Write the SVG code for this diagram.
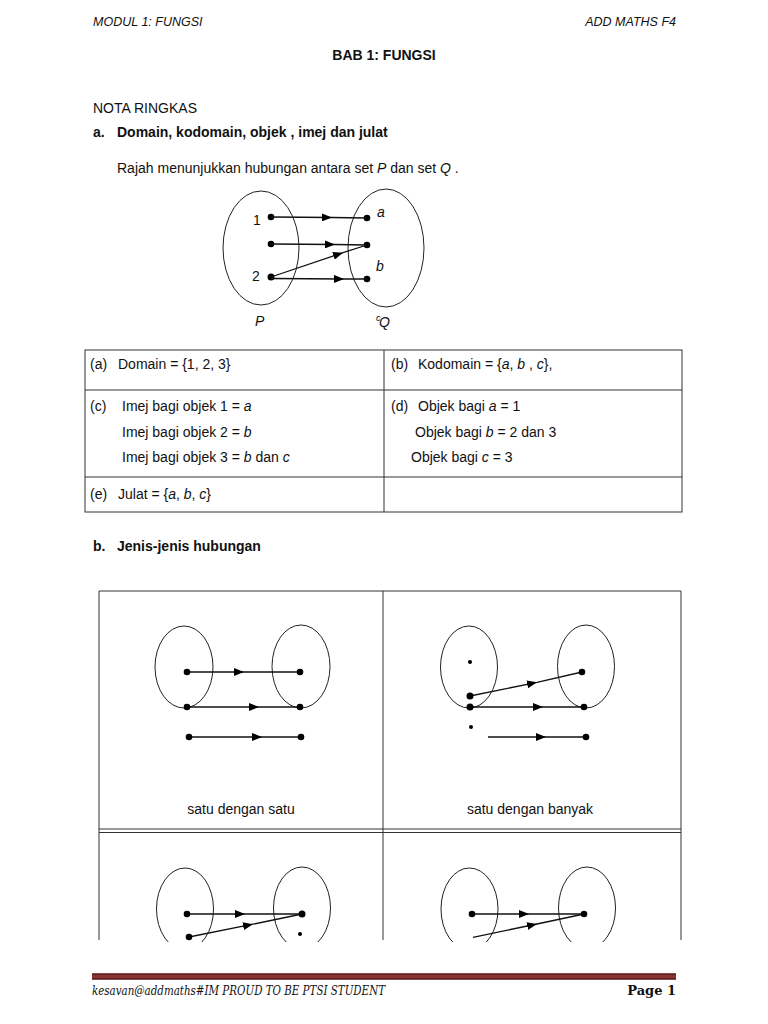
<svg xmlns="http://www.w3.org/2000/svg" width="768" height="1024" viewBox="0 0 768 1024">
<style>
text{font-family:"Liberation Sans",Arial,sans-serif;font-size:14px;fill:#111}
.it{font-style:italic}
.b{font-weight:bold}
.hd{font-size:12.5px;font-style:italic}
.ell{fill:none;stroke:#222;stroke-width:1}
.ln{fill:none;stroke:#111;stroke-width:1.3;marker-mid:url(#ah)}
.dot{fill:#000}
.bx{fill:none;stroke:#333;stroke-width:1}
.ft{font-family:"DejaVu Serif","Liberation Serif",serif;font-style:italic;font-size:12px}
</style>
<defs>
<marker id="ah" viewBox="0 0 10 8" refX="10" refY="4" markerWidth="10" markerHeight="8" markerUnits="userSpaceOnUse" orient="auto">
<path d="M0,0 L10,4 L0,8 Z" fill="#000"/>
</marker>
<clipPath id="cut"><rect x="0" y="0" width="768" height="942"/></clipPath>
</defs>
<rect width="768" height="1024" fill="#fff"/>

<g id="header">
<text class="hd" x="93" y="26">MODUL 1: FUNGSI</text>
<text class="hd" x="676" y="26" text-anchor="end">ADD MATHS F4</text>
<text class="b" x="384" y="60" text-anchor="middle">BAB 1: FUNGSI</text>
<text x="93" y="113">NOTA RINGKAS</text>
<text class="b" x="93" y="137">a.<tspan x="117">Domain, kodomain, objek , imej dan julat</tspan></text>
<text x="117" y="173">Rajah menunjukkan hubungan antara set <tspan class="it">P</tspan>  dan set <tspan class="it">Q</tspan> .</text>
</g>

<g id="setP">
<ellipse class="ell" cx="261" cy="248" rx="38" ry="57"/>
<circle class="dot" cx="271" cy="217" r="3.3"/>
<circle class="dot" cx="271" cy="244" r="3.3"/>
<circle class="dot" cx="271" cy="277" r="3.5"/>
<text x="253" y="225">1</text>
<text x="252" y="281">2</text>
<text class="it" x="255" y="326">P</text>
</g>
<g id="setQ">
<ellipse class="ell" cx="386" cy="248" rx="38" ry="59"/>
<circle class="dot" cx="367" cy="218" r="3.3"/>
<circle class="dot" cx="367" cy="245" r="3.3"/>
<circle class="dot" cx="367" cy="279" r="3.3"/>
<text class="it" x="377" y="217">a</text>
<text class="it" x="376" y="271">b</text>
<text class="it" x="376" y="321" style="font-size:9px">c</text>
<text class="it" x="379" y="327">Q</text>
</g>
<g id="connectors-top">
<polyline class="ln" points="271,217 332,217.5 367,218"/>
<polyline class="ln" points="271,244 335,244.5 367,245"/>
<polyline class="ln" points="271,277 343,252.7 367,245"/>
<polyline class="ln" points="271,278.5 344,279 367,279"/>
</g>

<g id="table">
<rect class="bx" x="85" y="350" width="597" height="162"/>
<line class="bx" x1="384" y1="350" x2="384" y2="512"/>
<line class="bx" x1="85" y1="390" x2="682" y2="390"/>
<line class="bx" x1="85" y1="477" x2="682" y2="477"/>
<text x="90" y="369">(a)<tspan x="118">Domain = {1, 2, 3}</tspan></text>
<text x="391" y="369">(b)<tspan x="418">Kodomain = {<tspan class="it">a</tspan>, <tspan class="it">b</tspan> , <tspan class="it">c</tspan>},</tspan></text>
<text x="90" y="411">(c)<tspan x="122">Imej bagi objek 1 = <tspan class="it">a</tspan></tspan></text>
<text x="122" y="437">Imej bagi objek 2 = <tspan class="it">b</tspan></text>
<text x="122" y="462">Imej bagi objek 3 = <tspan class="it">b</tspan> dan <tspan class="it">c</tspan></text>
<text x="391" y="411">(d)<tspan x="418">Objek bagi <tspan class="it">a</tspan> = 1</tspan></text>
<text x="415" y="437">Objek bagi <tspan class="it">b</tspan> = 2 dan 3</text>
<text x="411" y="462">Objek bagi <tspan class="it">c</tspan> = 3</text>
<text x="90" y="499">(e)<tspan x="118">Julat = {<tspan class="it">a</tspan>, <tspan class="it">b</tspan>, <tspan class="it">c</tspan>}</tspan></text>
</g>

<text class="b" x="93" y="551">b.<tspan x="117">Jenis-jenis hubungan</tspan></text>

<g id="types-frame">
<polyline class="bx" points="99,940 99,591 681,591 681,940"/>
<line class="bx" x1="383" y1="591" x2="383" y2="940"/>
<line class="bx" x1="99" y1="829" x2="681" y2="829"/>
<line class="bx" x1="99" y1="832.5" x2="681" y2="832.5"/>
</g>

<g id="one-to-one">
<ellipse class="ell" cx="184" cy="667" rx="29" ry="41"/>
<ellipse class="ell" cx="301" cy="666.5" rx="29" ry="41.5"/>
<polyline class="ln" points="187,672 244,672 300,672"/>
<polyline class="ln" points="187,707 259,707 300,707"/>
<polyline class="ln" points="189,737 262,737 301,737"/>
<circle class="dot" cx="187" cy="672" r="3.3"/>
<circle class="dot" cx="187" cy="707" r="3.3"/>
<circle class="dot" cx="189" cy="737" r="3.3"/>
<circle class="dot" cx="300" cy="672" r="3.3"/>
<circle class="dot" cx="300" cy="707" r="3.3"/>
<circle class="dot" cx="301" cy="737" r="3.3"/>
<text x="241" y="814" text-anchor="middle">satu dengan satu</text>
</g>

<g id="one-to-many">
<ellipse class="ell" cx="469" cy="667" rx="28.5" ry="41"/>
<ellipse class="ell" cx="586" cy="666.5" rx="28.5" ry="41.5"/>
<polyline class="ln" points="470,696 537,682.3 582,672"/>
<polyline class="ln" points="470,707 543,707 584,707"/>
<polyline class="ln" points="488,737 546,737 586,737"/>
<circle class="dot" cx="470" cy="662" r="2"/>
<circle class="dot" cx="470" cy="696" r="3.5"/>
<circle class="dot" cx="470" cy="707" r="3.5"/>
<circle class="dot" cx="471" cy="727" r="2"/>
<circle class="dot" cx="582" cy="672" r="3.3"/>
<circle class="dot" cx="584" cy="707" r="3.3"/>
<circle class="dot" cx="586" cy="737" r="3.3"/>
<text x="530" y="814" text-anchor="middle">satu dengan banyak</text>
</g>

<g id="many-to-one" clip-path="url(#cut)">
<ellipse class="ell" cx="185" cy="909" rx="28.5" ry="41"/>
<ellipse class="ell" cx="302" cy="908" rx="28.5" ry="41"/>
<polyline class="ln" points="187,914 245,914 302,914"/>
<polyline class="ln" points="189,937 253,924.2 302,914"/>
<circle class="dot" cx="187" cy="914" r="3.3"/>
<circle class="dot" cx="189" cy="937" r="3.3"/>
<circle class="dot" cx="302" cy="914" r="3.5"/>
<circle class="dot" cx="300" cy="934" r="2"/>
</g>

<g id="many-to-many" clip-path="url(#cut)">
<ellipse class="ell" cx="469.5" cy="909" rx="28.5" ry="41"/>
<ellipse class="ell" cx="587" cy="908" rx="28.5" ry="41"/>
<polyline class="ln" points="472,914 529,914 584,914"/>
<polyline class="ln" points="473,937.3 537,924 584,914"/>
<circle class="dot" cx="472" cy="914" r="3.3"/>
<circle class="dot" cx="584" cy="914" r="3.3"/>
</g>

<g id="footer">
<rect x="92" y="973.5" width="584" height="6" fill="#8a3434"/>
<line x1="92" y1="974" x2="676" y2="974" stroke="#3a0d0d" stroke-width="1.2"/>
<line x1="92" y1="979" x2="676" y2="979" stroke="#3a0d0d" stroke-width="1.2"/>
<text class="ft" x="92" y="995" textLength="293" lengthAdjust="spacingAndGlyphs">kesavan@addmaths#IM PROUD TO BE PTSI STUDENT</text>
<text x="676" y="995" text-anchor="end" style="font-family:'DejaVu Serif','Liberation Serif',serif;font-weight:bold;font-size:13px">Page 1</text>
</g>
</svg>
